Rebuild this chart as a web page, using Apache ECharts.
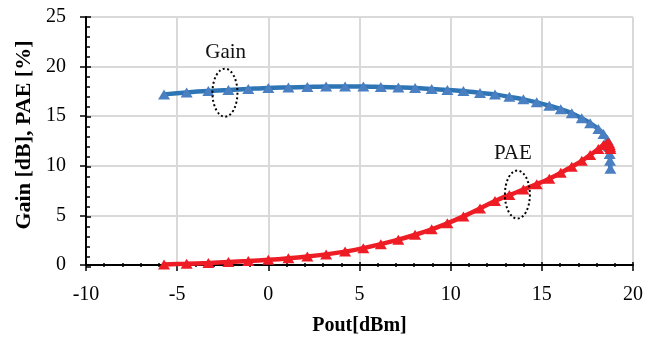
<!DOCTYPE html>
<html><head><meta charset="utf-8">
<script src="https://cdn.jsdelivr.net/npm/echarts@6/dist/echarts.min.js"></script>
<style>html,body{margin:0;padding:0;background:#fff}#c{width:656px;height:341px}</style>
</head><body><div id="c"></div>
<script>
// Pout [dBm] sweep points
const pout = [-5.72,-4.48,-3.29,-2.19,-1.10,0,1.10,2.14,3.17,4.21,5.21,6.17,7.13,8.05,8.96,9.82,10.70,11.61,12.43,13.22,13.99,14.72,15.41,16.04,16.64,17.19,17.65,18.10,18.38,18.60,18.68,18.72,18.74,18.76];
// Gain [dB]
const gain = [17.2,17.4,17.55,17.65,17.75,17.85,17.9,17.95,18.0,18.0,18.0,17.95,17.9,17.85,17.75,17.65,17.55,17.35,17.2,16.95,16.7,16.4,16.05,15.7,15.3,14.8,14.3,13.7,13.2,12.6,12.0,11.2,10.5,9.7];
// PAE [%]
const pae = [0.05,0.12,0.2,0.3,0.4,0.52,0.67,0.85,1.07,1.35,1.7,2.1,2.55,3.05,3.6,4.2,4.9,5.7,6.45,7.05,7.6,8.15,8.7,9.3,9.9,10.5,11.1,11.7,12.1,12.3,12.3,12.1,11.9,11.7];
// axis ranges
const xRange = [-10, 20, 5];
const yRange = [0, 25, 5];
// annotations: label, text position, ellipse centre (data coords)
const annLabels = ['Gain', 'PAE'];
const annText = [[-2.34, 21.4], [13.41, 11.2]];
const annEllipse = [[-2.38, 17.37], [13.66, 7.1]];

const serif = 'Liberation Serif';
const chart = echarts.init(document.getElementById('c'));
const pair = (xs, ys) => xs.map((x, i) => [x, ys[i]]);
const gridRect = {left: 86, top: 17, width: 547, height: 250};

function xAx(idx) {
  const base = {type: 'value', gridIndex: idx, min: xRange[0], max: xRange[1], interval: xRange[2]};
  if (idx === 0) return Object.assign(base, {
    axisLine: {show: true, onZero: false, lineStyle: {color: '#000', width: 2}},
    axisTick: {show: true, inside: false, length: 6, lineStyle: {color: '#000', width: 1.5}},
    axisLabel: {fontFamily: serif, fontSize: 20, color: '#000', margin: 20},
    splitLine: {show: true, lineStyle: {color: '#d9d9d9', width: 2}},
    name: 'Pout[dBm]', nameLocation: 'middle', nameGap: 51,
    nameTextStyle: {fontFamily: serif, fontWeight: 'bold', fontSize: 20, color: '#000'}
  });
  return Object.assign(base, {
    axisLine: {show: false, onZero: false},
    axisTick: {show: true, inside: true, length: 5, lineStyle: {color: '#000', width: 1.5}},
    minorTick: {show: true, splitNumber: 5, length: 4, lineStyle: {color: '#000', width: 1.5}},
    axisLabel: {show: false}, splitLine: {show: false}
  });
}
function yAx(idx) {
  const base = {type: 'value', gridIndex: idx, min: yRange[0], max: yRange[1], interval: yRange[2]};
  if (idx === 0) return Object.assign(base, {
    axisLine: {show: true, onZero: false, lineStyle: {color: '#000', width: 2}},
    axisTick: {show: true, inside: false, length: 6, lineStyle: {color: '#000', width: 1.5}},
    axisLabel: {fontFamily: serif, fontSize: 20, color: '#000', margin: 20},
    splitLine: {show: true, lineStyle: {color: '#d9d9d9', width: 2}},
    name: 'Gain [dB], PAE [%]', nameLocation: 'middle', nameGap: 50,
    nameTextStyle: {fontFamily: serif, fontWeight: 'bold', fontSize: 22, color: '#000', padding: [0, 0, 0, 12]}
  });
  return Object.assign(base, {
    axisLine: {show: false, onZero: false},
    axisTick: {show: true, inside: true, length: 5, lineStyle: {color: '#000', width: 1.5}},
    minorTick: {show: true, splitNumber: 5, length: 4, lineStyle: {color: '#000', width: 1.5}},
    axisLabel: {show: false}, splitLine: {show: false}
  });
}

chart.setOption({
  animation: false,
  grid: [Object.assign({}, gridRect), Object.assign({}, gridRect)],
  xAxis: [xAx(0), xAx(1)],
  yAxis: [yAx(0), yAx(1)],
  series: [
    {name: 'Gain', type: 'line', xAxisIndex: 0, yAxisIndex: 0, data: pair(pout, gain),
     smooth: 0.3, symbol: 'triangle', symbolSize: [12, 10],
     lineStyle: {color: '#2e75b6', width: 4.5}, itemStyle: {color: '#4a7fc1'}, z: 2},
    {name: 'PAE', type: 'line', xAxisIndex: 0, yAxisIndex: 0, data: pair(pout, pae),
     smooth: 0.3, symbol: 'triangle', symbolSize: [12, 10],
     lineStyle: {color: '#ee1c25', width: 4.5}, itemStyle: {color: '#ee1c25'}, z: 3}
  ]
});

const g = [];
annLabels.forEach((lab, i) => {
  const tp = chart.convertToPixel({gridIndex: 0}, annText[i]);
  const ep = chart.convertToPixel({gridIndex: 0}, annEllipse[i]);
  g.push({type: 'text', x: tp[0], y: tp[1], z: 10,
    style: {text: lab, font: '21px "Liberation Serif"', fill: '#111', align: 'center', verticalAlign: 'middle'}});
  g.push({type: 'ellipse', shape: {cx: ep[0], cy: ep[1], rx: 12.5, ry: 24}, z: 10,
    style: {fill: 'none', stroke: '#000', lineWidth: 2, lineDash: [2, 2.5]}});
});
chart.setOption({graphic: g});
</script></body></html>
